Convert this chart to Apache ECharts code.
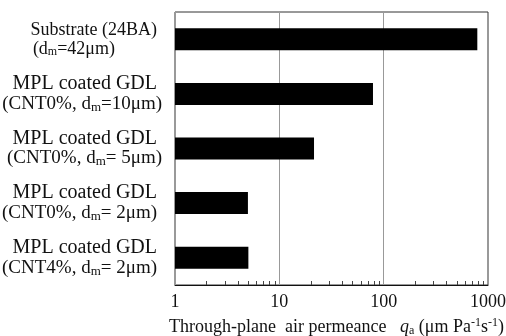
<!DOCTYPE html>
<html>
<head>
<meta charset="utf-8">
<script src="https://cdn.jsdelivr.net/npm/echarts@6/dist/echarts.min.js"></script>
<style>
html,body{margin:0;padding:0;background:#fff;}
#chart{width:506px;height:336px;}
</style>
</head>
<body>
<div id="chart"></div>
<script>
// Category labels (top to bottom), rich-text markup for subscripts
var categories = [
  '{s|Substrate (24BA)}{p5|}\n{s|(d}{ss|m}{s|=42μm)}{p47|}',
  '{b|MPL coated GDL}{p5|}\n{c|(CNT0%, d}{cs|m}{c|=10μm)}',
  '{b|MPL coated GDL}{p5|}\n{c|(CNT0%, d}{cs|m}{c|= 5μm)}',
  '{b|MPL coated GDL}{p5|}\n{c|(CNT0%, d}{cs|m}{c|= 2μm)}{p5|}',
  '{b|MPL coated GDL}{p5|}\n{c|(CNT4%, d}{cs|m}{c|= 2μm)}{p5|}'
];
// Through-plane air permeance q_a (μm Pa^-1 s^-1)
var permeance = [790, 79, 21.5, 5.0, 5.05];
var xTickLabels = ['1', '10', '100', '1000'];
var minorTickValues = [2, 3, 4, 5, 6, 7, 8, 9, 20, 30, 40, 50, 60, 70, 80, 90, 200, 300, 400, 500, 600, 700, 800, 900];
var xMin = 1, xMax = 1000;

var FONT = 'Liberation Serif';
var C = '#111';
var chart = echarts.init(document.getElementById('chart'), null, {renderer: 'canvas'});
var option = {
  animation: false,
  backgroundColor: '#fff',
  grid: {left: 175, right: 18, top: 12, bottom: 51, show: true, borderColor: '#333', borderWidth: 1, backgroundColor: 'transparent', containLabel: false, outerBoundsMode: 'none'},
  xAxis: {
    type: 'log', logBase: 10, min: xMin, max: xMax,
    axisLine: {show: true, lineStyle: {color: '#111', width: 1}},
    axisTick: {show: false},
    axisLabel: {
      color: C, fontFamily: FONT, fontSize: 18, margin: 8,
      formatter: function (v) { var i = Math.round(Math.log10(v)); return xTickLabels[i] !== undefined ? xTickLabels[i] : ''; }
    },
    splitLine: {show: true, lineStyle: {color: '#999', width: 1}},
    name: 'Through-plane  air permeance   {i|q}{sub|a} (μm Pa{sup|-1}s{sup|-1})',
    nameLocation: 'middle', nameGap: 32,
    nameTextStyle: {
      color: C, fontFamily: FONT, fontSize: 18, lineHeight: 20, padding: [0, 0, 0, 10],
      rich: {
        i: {fontFamily: FONT, fontSize: 18, fontStyle: 'italic', color: C, lineHeight: 20},
        sub: {fontFamily: FONT, fontSize: 12, color: C, lineHeight: 10, verticalAlign: 'bottom'},
        sup: {fontFamily: FONT, fontSize: 12, color: C, lineHeight: 10, verticalAlign: 'top'}
      }
    }
  },
  yAxis: {
    type: 'category', inverse: true, data: categories,
    axisLine: {show: false}, axisTick: {show: false}, splitLine: {show: false},
    axisLabel: {
      color: C, fontFamily: FONT, fontSize: 18, lineHeight: 19, margin: 13, align: 'right',
      rich: {
        s: {fontFamily: FONT, fontSize: 18, color: C, lineHeight: 19},
        ss: {fontFamily: FONT, fontSize: 12, color: C, lineHeight: 10, verticalAlign: 'bottom'},
        b: {fontFamily: FONT, fontSize: 20, color: C, lineHeight: 20},
        c: {fontFamily: FONT, fontSize: 19, color: C, lineHeight: 20},
        cs: {fontFamily: FONT, fontSize: 13, color: C, lineHeight: 10, verticalAlign: 'bottom'},
        p5: {width: 5, fontSize: 18, lineHeight: 19},
        p47: {width: 47, fontSize: 18, lineHeight: 19}
      }
    }
  },
  series: [{
    type: 'bar', data: permeance, barWidth: 22,
    itemStyle: {color: '#000'}
  }, {
    type: 'custom', silent: true, z: 5,
    data: minorTickValues.map(function (v) { return [v, 0]; }),
    encode: {x: 0, y: 1},
    renderItem: function (params, api) {
      var p = api.coord([api.value(0), 0]);
      var cs = params.coordSys;
      var yb = cs.y + cs.height;
      var x = Math.round(p[0]) + 0.5;
      return {type: 'line', shape: {x1: x, y1: yb, x2: x, y2: yb - 4}, style: {stroke: '#444', lineWidth: 1}};
    }
  }]
};
chart.setOption(option);
</script>
</body>
</html>
